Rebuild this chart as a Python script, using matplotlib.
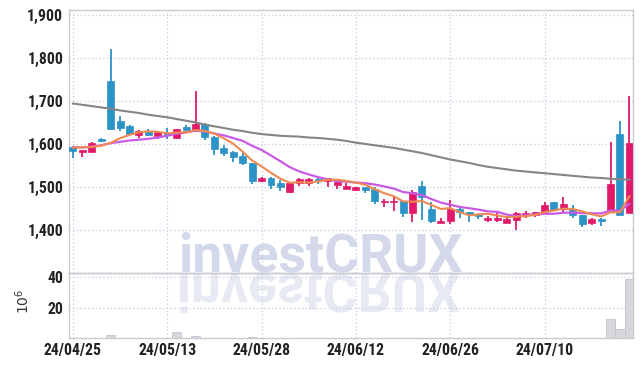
import numpy as np
import matplotlib
matplotlib.use('Agg')
import matplotlib.pyplot as plt
from matplotlib import font_manager as fm
from matplotlib.ticker import FuncFormatter
from matplotlib.textpath import TextPath
from matplotlib.patches import PathPatch
from matplotlib.font_manager import FontProperties
from matplotlib.transforms import Affine2D


# daily candles, 60 sessions
opens = [1593, 1582, 1582, 1610, 1747, 1654, 1642, 1622, 1628, 1618,
         1626, 1613, 1640, 1631, 1647, 1617, 1591, 1582, 1572, 1555,
         1513, 1522, 1509, 1488, 1509, 1510, 1519, 1515, 1504, 1496,
         1492, 1499, 1495, 1464, 1466, 1467, 1439, 1502, 1450, 1417,
         1421, 1449, 1441, 1437, 1424, 1423, 1417, 1423, 1435, 1436,
         1441, 1464, 1448, 1448, 1435, 1417, 1426, 1445, 1623, 1440]
highs = [1595, 1586, 1605, 1615, 1821, 1664, 1645, 1633, 1634, 1629,
         1637, 1635, 1643, 1722, 1648, 1618, 1598, 1584, 1582, 1556,
         1523, 1523, 1516, 1510, 1520, 1521, 1521, 1521, 1516, 1509,
         1501, 1500, 1499, 1471, 1476, 1468, 1493, 1515, 1464, 1427,
         1470, 1451, 1442, 1438, 1433, 1439, 1427, 1442, 1445, 1443,
         1465, 1465, 1476, 1459, 1436, 1429, 1427, 1604, 1653, 1712]
lows = [1567, 1570, 1581, 1604, 1633, 1631, 1622, 1615, 1619, 1612,
        1612, 1611, 1632, 1630, 1610, 1574, 1573, 1559, 1551, 1507,
        1512, 1495, 1491, 1487, 1502, 1502, 1507, 1501, 1496, 1495,
        1491, 1487, 1460, 1454, 1444, 1431, 1419, 1423, 1416, 1416,
        1415, 1429, 1419, 1425, 1418, 1418, 1416, 1401, 1427, 1431,
        1440, 1446, 1440, 1427, 1408, 1412, 1409, 1444, 1435, 1439]
closes = [1584, 1585, 1602, 1608, 1634, 1638, 1624, 1631, 1621, 1627,
          1620, 1634, 1633, 1647, 1617, 1589, 1580, 1570, 1555, 1513,
          1522, 1505, 1501, 1509, 1518, 1519, 1517, 1520, 1512, 1502,
          1500, 1492, 1468, 1466, 1468, 1439, 1488, 1476, 1421, 1421,
          1448, 1443, 1437, 1433, 1428, 1427, 1426, 1440, 1440, 1442,
          1459, 1447, 1460, 1436, 1414, 1426, 1422, 1507, 1436, 1603]

# volume in millions
volume = [0.2, 0.1, 0.3, 0.2, 2.0, 0.4, 0.2, 0.2, 0.1, 0.1,
          0.2, 4.1, 0.3, 1.3, 0.3, 0.3, 0.2, 0.2, 0.2, 0.7,
          0.2, 0.2, 0.2, 0.3, 0.2, 0.1, 0.1, 0.1, 0.1, 0.1,
          0.1, 0.2, 0.3, 0.2, 0.2, 0.3, 0.4, 0.4, 0.3, 0.2,
          0.3, 0.2, 0.1, 0.1, 0.1, 0.1, 0.1, 0.2, 0.1, 0.1,
          0.2, 0.2, 0.2, 0.2, 0.2, 0.1, 0.1, 12.8, 6.3, 38.5]

# moving averages as drawn
ma_short = [1592, 1592, 1593, 1596, 1602.6, 1613.4, 1621.2, 1627, 1629.6, 1628.2,
            1624.6, 1626.6, 1627, 1632.2, 1630.2, 1624, 1613.2, 1600.6, 1582.2, 1561.4,
            1548, 1533, 1519.2, 1510, 1511, 1510.4, 1512.8, 1516.6, 1517.2, 1514,
            1510.2, 1505.2, 1494.8, 1485.6, 1478.8, 1466.6, 1465.8, 1467.4, 1458.4, 1449,
            1450.8, 1441.8, 1434, 1436.4, 1437.8, 1433.6, 1430.2, 1430.8, 1432.2, 1435,
            1441.4, 1445.6, 1449.6, 1448.8, 1443.2, 1436.6, 1431.6, 1441, 1441, 1478.8]
ma_mid = [1592, 1592, 1594, 1597, 1602, 1605, 1608, 1610, 1612, 1615.4,
          1619.0, 1623.9, 1627.0, 1630.9, 1629.2, 1624.3, 1619.9, 1613.8, 1607.2, 1595.8,
          1586.0, 1573.1, 1559.9, 1546.1, 1536.2, 1529.2, 1522.9, 1517.9, 1513.6, 1512.5,
          1510.3, 1509.0, 1505.7, 1501.4, 1496.4, 1488.4, 1485.5, 1481.1, 1472.0, 1463.9,
          1458.7, 1453.8, 1450.7, 1447.4, 1443.4, 1442.2, 1436.0, 1432.4, 1434.3, 1436.4,
          1437.5, 1437.9, 1440.2, 1440.5, 1439.1, 1439.0, 1438.6, 1445.3, 1444.9, 1461.0]
ma_long = [1694, 1691, 1688, 1685, 1682, 1678, 1675, 1672, 1668, 1665,
           1662, 1658, 1654, 1650, 1645, 1641, 1637, 1633, 1630, 1626,
           1623, 1621, 1619, 1618, 1617, 1615, 1614, 1612, 1610, 1607,
           1603, 1600, 1597, 1594, 1591, 1587, 1583, 1579, 1574, 1569,
           1564, 1560, 1556, 1551, 1547, 1544, 1541, 1538, 1536, 1534,
           1532, 1530, 1528, 1526, 1524, 1522, 1521, 1519, 1518, 1517]

date_ticks = [0, 10, 20, 30, 40, 50]
date_labels = ['24/04/25', '24/05/13', '24/05/28', '24/06/12', '24/06/26', '24/07/10']
price_ticks = [1400, 1500, 1600, 1700, 1800, 1900]
vol_ticks = [20, 40]

UP = '#e2196b'
DOWN = '#2b93c6'
GRID = '#c6cbe0'
FRAME = '#c9c9d0'

# pick a narrow face for the tick labels if one is around
installed = {f.name for f in fm.fontManager.ttflist}
tick_family, tick_stretch = 'DejaVu Sans', 'condensed'
for cand in ['Liberation Sans Narrow', 'Roboto Condensed', 'DejaVu Sans Condensed',
             'Open Sans Condensed', 'Noto Sans Condensed']:
    if cand in installed:
        tick_family, tick_stretch = cand, 'normal'
        break
if tick_family == 'DejaVu Sans':
    for f in fm.fontManager.ttflist:
        if f.name in ('Noto Sans', 'Open Sans', 'Roboto') and 'ondensed' in str(f.stretch):
            tick_family = f.name
            break


def style_labels(labels):
    for lab in labels:
        lab.set_family([tick_family, 'DejaVu Sans'])
        lab.set_stretch(tick_stretch if tick_family == 'DejaVu Sans' else 'condensed')
        lab.set_fontweight('bold')
        lab.set_fontsize(11.3)
        lab.set_color('#222222')


x = np.arange(len(closes))
o = np.array(opens)
c = np.array(closes)
colors = [UP if cc >= oo else DOWN for oo, cc in zip(o, c)]

fig = plt.figure(figsize=(6.43, 3.67), dpi=100)
fig.patch.set_facecolor('white')
ax = fig.add_axes([0.108, 0.256, 0.877, 0.717])
axv = fig.add_axes([0.108, 0.078, 0.877, 0.178], sharex=ax)

for a in (ax, axv):
    a.set_facecolor('none')
    for s in a.spines.values():
        s.set_color(FRAME)
        s.set_linewidth(1.0)
    a.grid(True, color=GRID, linestyle=(0, (1, 2)), linewidth=0.9)
    a.set_axisbelow(True)
    a.tick_params(length=0)

# candles
ax.vlines(x, lows, highs, colors=colors, linewidth=1.3, zorder=2)
body_h = np.maximum(np.abs(c - o), 2.5)
ax.bar(x, body_h, bottom=np.minimum(o, c), width=0.74, color=colors,
       edgecolor=colors, linewidth=0.5, zorder=3)

# moving averages
ax.plot(x, ma_long, color='#858585', lw=1.5, zorder=4)
ax.plot(x, ma_mid, color='#c95ae6', lw=1.6, zorder=4)
ax.plot(x, ma_short, color='#ee8a50', lw=1.5, zorder=5)

ax.set_xlim(-0.37, 59.42)
ax.set_ylim(1300, 1911.6)
ax.set_yticks(price_ticks)
ax.yaxis.set_major_formatter(FuncFormatter(lambda v, p: f'{v:,.0f}'))
ax.tick_params(axis='x', labelbottom=False)
ax.tick_params(axis='y', pad=4.5)

# volume
axv.bar(x, volume, width=0.98, color='#d7d7de', edgecolor='#c3c3cc', linewidth=0.6, zorder=2)
axv.set_ylim(0, 42.6)
axv.set_yticks(vol_ticks)
axv.set_xticks(date_ticks)
axv.set_xticklabels(date_labels)
axv.tick_params(axis='y', pad=4.5)
axv.tick_params(axis='x', pad=3)
axv.set_ylabel(r'$10^6$', fontsize=10, color='#333333')
axv.yaxis.set_label_coords(-0.066, 0.57)

style_labels(ax.get_yticklabels())
style_labels(axv.get_yticklabels() + axv.get_xticklabels())

# watermark and its reflection
fig.text(320 / 643, (367 - 272) / 367, 'investCRUX', ha='center', va='baseline',
         fontsize=38.5, fontweight='bold', family='Roboto', color='#d3d8ea', zorder=-1)
tp = TextPath((0, 0), 'investCRUX', size=38.5,
              prop=FontProperties(family='Roboto', weight='bold'))
ext = tp.get_extents()
flip = (Affine2D().translate(-(ext.x0 + ext.x1) / 2, 0).scale(1 / 72, -1 / 72)
        .translate(3.20, (367 - 274) / 100) + fig.dpi_scale_trans)
fig.add_artist(PathPatch(tp, transform=flip, facecolor='#e8eaf3', edgecolor='none', zorder=-1))

fig.savefig('out.png', dpi=100, facecolor='white')
